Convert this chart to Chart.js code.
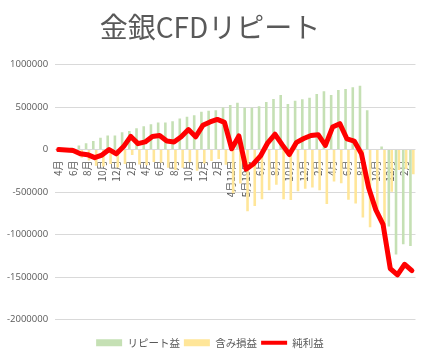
<!DOCTYPE html>
<html><head><meta charset="utf-8">
<script src="https://cdn.jsdelivr.net/npm/chart.js@4/dist/chart.umd.min.js"></script>
<style>html,body{margin:0;padding:0;background:#fff;}</style>
</head><body>
<canvas id="c" width="427" height="360"></canvas>
<script>
const categories = [
  '4月','5月','6月','7月','8月','9月','10月','11月','12月','1月','2月','3月',
  '4月','5月','6月','7月','8月','9月','10月','11月','12月','1月','2月','3月',
  '4月12日','4月26日','5月19日','5月26日','6月','7月','8月','9月','10月','11月','12月','1月','2月','3月',
  '4月','5月','6月','7月','8月','9月','10月','11月','12月','1月','2月','3月'
];
const repeatProfit = [
  5000, 12000, 25000, 48000, 75000, 100000, 140000, 165000, 165000, 205000, 218000, 250000,
  274000, 298000, 318000, 318000, 333000, 365000, 385000, 405000, 444000, 456000, 464000, 496000,
  524000, 551000, 492000, 492000, 510000, 560000, 595000, 643000, 536000, 575000, 591000, 611000,
  655000, 687000, 643000, 702000, 714000, 734000, 750000, 464000, 8000, 36000, -905000, -1234000, -1115000, -1135000
];
const unrealized = [
  -5000, -15000, -35000, -95000, -130000, -190000, -200000, -170000, -210000, -170000, -65000, -175000,
  -185000, -145000, -155000, -215000, -240000, -215000, -150000, -250000, -165000, -135000, -110000, -180000,
  -515000, -400000, -725000, -665000, -585000, -480000, -415000, -585000, -595000, -490000, -460000, -445000,
  -480000, -640000, -375000, -395000, -590000, -635000, -800000, -915000, -720000, -900000, -495000, -240000, -230000, -290000
];
const netProfit = [
  0, -5000, -10000, -50000, -60000, -95000, -65000, 0, -50000, 35000, 155000, 70000,
  90000, 155000, 165000, 100000, 90000, 150000, 235000, 150000, 285000, 325000, 355000, 320000,
  10000, 160000, -230000, -170000, -75000, 80000, 180000, 58000, -58000, 85000, 130000, 165000,
  175000, 50000, 265000, 305000, 125000, 100000, -50000, -450000, -710000, -880000, -1400000, -1475000, -1350000, -1425000
];
const yTicks = [1000000, 500000, 0, -500000, -1000000, -1500000, -2000000];
const seriesNames = ['リピート益', '含み損益', '純利益'];
const titleText = '金銀CFDリピート';

const GRAY = '#595959';
new Chart(document.getElementById('c'), {
  type: 'bar',
  data: {
    labels: categories,
    datasets: [
      { label: seriesNames[0], data: repeatProfit, backgroundColor: '#c5e0b4', borderWidth: 0,
        categoryPercentage: 0.8, barPercentage: 0.9, order: 1 },
      { label: seriesNames[1], data: unrealized, backgroundColor: '#ffe699', borderWidth: 0,
        categoryPercentage: 0.8, barPercentage: 0.9, order: 1 },
      { type: 'line', label: seriesNames[2], data: netProfit, borderColor: '#ff0000', backgroundColor: '#ff0000',
        borderWidth: 5, pointRadius: 0, tension: 0, borderJoinStyle: 'round', borderCapStyle: 'round', order: -1 }
    ]
  },
  options: {
    responsive: false,
    animation: false,
    layout: { padding: { left: 0, right: 7, top: 0, bottom: 2 } },
    plugins: {
      title: { display: true, text: titleText, color: GRAY,
        font: { family: '"Noto Sans CJK JP"', size: 28, weight: 'normal' },
        padding: { top: 11, bottom: 20 } },
      legend: { position: 'bottom',
        labels: { color: GRAY, font: { family: '"Noto Sans CJK JP"', size: 10.5 },
          usePointStyle: true, pointStyleWidth: 26, boxHeight: 7, padding: 4,
          sort: (a, b) => a.datasetIndex - b.datasetIndex,
          generateLabels: (chart) => {
            const items = Chart.defaults.plugins.legend.labels.generateLabels(chart);
            items.forEach(it => {
              if (it.datasetIndex === 2) { it.pointStyle = 'line'; it.lineWidth = 4; it.strokeStyle = '#ff0000'; }
              else { it.pointStyle = 'rect'; it.lineWidth = 0; }
            });
            return items;
          } } },
      tooltip: { enabled: false }
    },
    scales: {
      x: {
        position: { y: 0 },
        grid: { display: false },
        border: { display: false },
        ticks: { autoSkip: false, maxRotation: 90, minRotation: 90, padding: 3, color: GRAY,
          font: { family: '"Noto Sans CJK JP"', size: 10 },
          callback: function(v, i) { return i % 2 === 0 ? categories[i] : ''; } }
      },
      xSpace: {
        type: 'category', position: 'bottom',
        grid: { display: false }, border: { display: false },
        ticks: { display: false },
        afterFit: (s) => { s.height = 14; }
      },
      y: {
        min: -2000000, max: 1000000,
        afterBuildTicks: (s) => { s.ticks = yTicks.map(v => ({ value: v })); },
        grid: { color: '#d9d9d9', drawTicks: false },
        border: { display: false },
        ticks: { color: GRAY, padding: 7, font: { family: '"Open Sans"', size: 9.5 },
          callback: (v) => String(v) }
      }
    }
  }
});
</script>
</body></html>
